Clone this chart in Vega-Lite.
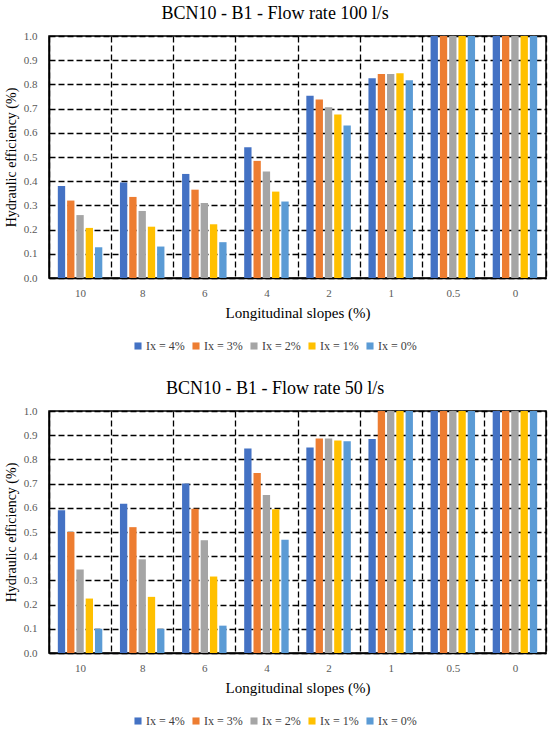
{
  "$schema": "https://vega.github.io/schema/vega-lite/v6.json",
  "padding": {"left": 3, "top": 4, "right": 7, "bottom": 4},
  "config": {
    "font": "Liberation Serif",
    "view": {"stroke": "black", "strokeWidth": 1.5},
    "axis": {
      "labelFont": "Liberation Serif",
      "labelFontSize": 11,
      "labelColor": "#595959",
      "titleFont": "Liberation Serif",
      "titleFontSize": 14,
      "titleFontWeight": "normal",
      "titleColor": "#000000",
      "domainColor": "#000000",
      "domainWidth": 1.5,
      "ticks": false,
      "grid": true,
      "gridColor": "#000000",
      "gridDash": [6, 3],
      "gridWidth": 1.3,
      "gridOpacity": 1
    },
    "title": {"font": "Liberation Serif", "fontSize": 18, "fontWeight": "normal", "color": "#000000", "frame": "bounds", "anchor": "middle", "offset": 7},
    "legend": {"labelFont": "Liberation Serif", "labelFontSize": 12, "labelColor": "#404040", "symbolType": "square", "symbolSize": 50, "symbolStrokeWidth": 0, "columnPadding": 5, "labelOffset": 2},
    "concat": {"spacing": 26}
  },
  "datasets": {
    "q100": [
      {"slope": "10", "ix": "Ix = 4%", "value": 0.38},
      {"slope": "10", "ix": "Ix = 3%", "value": 0.32},
      {"slope": "10", "ix": "Ix = 2%", "value": 0.26},
      {"slope": "10", "ix": "Ix = 1%", "value": 0.207},
      {"slope": "10", "ix": "Ix = 0%", "value": 0.127},
      {"slope": "8", "ix": "Ix = 4%", "value": 0.395},
      {"slope": "8", "ix": "Ix = 3%", "value": 0.335},
      {"slope": "8", "ix": "Ix = 2%", "value": 0.277},
      {"slope": "8", "ix": "Ix = 1%", "value": 0.212},
      {"slope": "8", "ix": "Ix = 0%", "value": 0.13},
      {"slope": "6", "ix": "Ix = 4%", "value": 0.43},
      {"slope": "6", "ix": "Ix = 3%", "value": 0.365},
      {"slope": "6", "ix": "Ix = 2%", "value": 0.31},
      {"slope": "6", "ix": "Ix = 1%", "value": 0.222},
      {"slope": "6", "ix": "Ix = 0%", "value": 0.148},
      {"slope": "4", "ix": "Ix = 4%", "value": 0.54},
      {"slope": "4", "ix": "Ix = 3%", "value": 0.484},
      {"slope": "4", "ix": "Ix = 2%", "value": 0.44},
      {"slope": "4", "ix": "Ix = 1%", "value": 0.357},
      {"slope": "4", "ix": "Ix = 0%", "value": 0.316},
      {"slope": "2", "ix": "Ix = 4%", "value": 0.753},
      {"slope": "2", "ix": "Ix = 3%", "value": 0.738},
      {"slope": "2", "ix": "Ix = 2%", "value": 0.706},
      {"slope": "2", "ix": "Ix = 1%", "value": 0.676},
      {"slope": "2", "ix": "Ix = 0%", "value": 0.63},
      {"slope": "1", "ix": "Ix = 4%", "value": 0.825},
      {"slope": "1", "ix": "Ix = 3%", "value": 0.843},
      {"slope": "1", "ix": "Ix = 2%", "value": 0.843},
      {"slope": "1", "ix": "Ix = 1%", "value": 0.846},
      {"slope": "1", "ix": "Ix = 0%", "value": 0.817},
      {"slope": "0.5", "ix": "Ix = 4%", "value": 1.0},
      {"slope": "0.5", "ix": "Ix = 3%", "value": 1.0},
      {"slope": "0.5", "ix": "Ix = 2%", "value": 1.0},
      {"slope": "0.5", "ix": "Ix = 1%", "value": 1.0},
      {"slope": "0.5", "ix": "Ix = 0%", "value": 1.0},
      {"slope": "0", "ix": "Ix = 4%", "value": 1.0},
      {"slope": "0", "ix": "Ix = 3%", "value": 1.0},
      {"slope": "0", "ix": "Ix = 2%", "value": 1.0},
      {"slope": "0", "ix": "Ix = 1%", "value": 1.0},
      {"slope": "0", "ix": "Ix = 0%", "value": 1.0}
    ],
    "q50": [
      {"slope": "10", "ix": "Ix = 4%", "value": 0.59},
      {"slope": "10", "ix": "Ix = 3%", "value": 0.5},
      {"slope": "10", "ix": "Ix = 2%", "value": 0.345},
      {"slope": "10", "ix": "Ix = 1%", "value": 0.225},
      {"slope": "10", "ix": "Ix = 0%", "value": 0.1},
      {"slope": "8", "ix": "Ix = 4%", "value": 0.617},
      {"slope": "8", "ix": "Ix = 3%", "value": 0.52},
      {"slope": "8", "ix": "Ix = 2%", "value": 0.387},
      {"slope": "8", "ix": "Ix = 1%", "value": 0.232},
      {"slope": "8", "ix": "Ix = 0%", "value": 0.1},
      {"slope": "6", "ix": "Ix = 4%", "value": 0.7},
      {"slope": "6", "ix": "Ix = 3%", "value": 0.596},
      {"slope": "6", "ix": "Ix = 2%", "value": 0.466},
      {"slope": "6", "ix": "Ix = 1%", "value": 0.316},
      {"slope": "6", "ix": "Ix = 0%", "value": 0.113},
      {"slope": "4", "ix": "Ix = 4%", "value": 0.845},
      {"slope": "4", "ix": "Ix = 3%", "value": 0.744},
      {"slope": "4", "ix": "Ix = 2%", "value": 0.653},
      {"slope": "4", "ix": "Ix = 1%", "value": 0.594},
      {"slope": "4", "ix": "Ix = 0%", "value": 0.468},
      {"slope": "2", "ix": "Ix = 4%", "value": 0.849},
      {"slope": "2", "ix": "Ix = 3%", "value": 0.886},
      {"slope": "2", "ix": "Ix = 2%", "value": 0.886},
      {"slope": "2", "ix": "Ix = 1%", "value": 0.878},
      {"slope": "2", "ix": "Ix = 0%", "value": 0.875},
      {"slope": "1", "ix": "Ix = 4%", "value": 0.884},
      {"slope": "1", "ix": "Ix = 3%", "value": 1.0},
      {"slope": "1", "ix": "Ix = 2%", "value": 1.0},
      {"slope": "1", "ix": "Ix = 1%", "value": 1.0},
      {"slope": "1", "ix": "Ix = 0%", "value": 1.0},
      {"slope": "0.5", "ix": "Ix = 4%", "value": 1.0},
      {"slope": "0.5", "ix": "Ix = 3%", "value": 1.0},
      {"slope": "0.5", "ix": "Ix = 2%", "value": 1.0},
      {"slope": "0.5", "ix": "Ix = 1%", "value": 1.0},
      {"slope": "0.5", "ix": "Ix = 0%", "value": 1.0},
      {"slope": "0", "ix": "Ix = 4%", "value": 1.0},
      {"slope": "0", "ix": "Ix = 3%", "value": 1.0},
      {"slope": "0", "ix": "Ix = 2%", "value": 1.0},
      {"slope": "0", "ix": "Ix = 1%", "value": 1.0},
      {"slope": "0", "ix": "Ix = 0%", "value": 1.0}
    ]
  },
  "resolve": {"scale": {"color": "independent"}, "legend": {"color": "independent"}},
  "vconcat": [
    {
      "title": {"text": "BCN10 - B1 - Flow rate 100 l/s", "font": "Liberation Serif"},
      "width": 497,
      "height": 242,
      "data": {"name": "q100"},
      "mark": {"type": "bar"},
      "encoding": {
        "x": {
          "field": "slope", "type": "nominal",
          "sort": ["10", "8", "6", "4", "2", "1", "0.5", "0"],
          "scale": {"paddingInner": 0, "paddingOuter": 0},
          "axis": {"title": "Longitudinal slopes (%)", "titleFont": "Liberation Serif", "labelFont": "Liberation Serif", "titleFontSize": 15, "labelAngle": 0, "tickBand": "extent", "labelPadding": 9, "titlePadding": 7}
        },
        "xOffset": {
          "field": "ix", "type": "nominal",
          "sort": ["Ix = 4%", "Ix = 3%", "Ix = 2%", "Ix = 1%", "Ix = 0%"],
          "scale": {"paddingInner": 0.21, "paddingOuter": 0.95}
        },
        "y": {
          "field": "value", "type": "quantitative",
          "scale": {"domain": [0, 1], "nice": false},
          "axis": {"title": "Hydraulic efficiency  (%)", "titleFont": "Liberation Serif", "labelFont": "Liberation Serif", "values": [0, 0.1, 0.2, 0.3, 0.4, 0.5, 0.6, 0.7, 0.8, 0.9, 1.0], "format": ".1f", "labelPadding": 12, "titlePadding": 5}
        },
        "color": {
          "field": "ix", "type": "nominal",
          "sort": ["Ix = 4%", "Ix = 3%", "Ix = 2%", "Ix = 1%", "Ix = 0%"],
          "scale": {"domain": ["Ix = 4%", "Ix = 3%", "Ix = 2%", "Ix = 1%", "Ix = 0%"], "range": ["#4472C4", "#ED7D31", "#A5A5A5", "#FFC000", "#5B9BD5"]},
          "legend": {"orient": "none", "legendX": 83, "legendY": 304, "direction": "horizontal", "title": null, "columns": 5, "labelFont": "Liberation Serif"}
        }
      }
    },
    {
      "title": {"text": "BCN10 - B1 - Flow rate 50 l/s", "font": "Liberation Serif"},
      "width": 497,
      "height": 242,
      "data": {"name": "q50"},
      "mark": {"type": "bar"},
      "encoding": {
        "x": {
          "field": "slope", "type": "nominal",
          "sort": ["10", "8", "6", "4", "2", "1", "0.5", "0"],
          "scale": {"paddingInner": 0, "paddingOuter": 0},
          "axis": {"title": "Longitudinal slopes (%)", "titleFont": "Liberation Serif", "labelFont": "Liberation Serif", "titleFontSize": 15, "labelAngle": 0, "tickBand": "extent", "labelPadding": 9, "titlePadding": 7}
        },
        "xOffset": {
          "field": "ix", "type": "nominal",
          "sort": ["Ix = 4%", "Ix = 3%", "Ix = 2%", "Ix = 1%", "Ix = 0%"],
          "scale": {"paddingInner": 0.21, "paddingOuter": 0.95}
        },
        "y": {
          "field": "value", "type": "quantitative",
          "scale": {"domain": [0, 1], "nice": false},
          "axis": {"title": "Hydraulic efficiency  (%)", "titleFont": "Liberation Serif", "labelFont": "Liberation Serif", "values": [0, 0.1, 0.2, 0.3, 0.4, 0.5, 0.6, 0.7, 0.8, 0.9, 1.0], "format": ".1f", "labelPadding": 12, "titlePadding": 5}
        },
        "color": {
          "field": "ix", "type": "nominal",
          "sort": ["Ix = 4%", "Ix = 3%", "Ix = 2%", "Ix = 1%", "Ix = 0%"],
          "scale": {"domain": ["Ix = 4%", "Ix = 3%", "Ix = 2%", "Ix = 1%", "Ix = 0%"], "range": ["#4472C4", "#ED7D31", "#A5A5A5", "#FFC000", "#5B9BD5"]},
          "legend": {"orient": "none", "legendX": 83, "legendY": 304, "direction": "horizontal", "title": null, "columns": 5, "labelFont": "Liberation Serif"}
        }
      }
    }
  ]
}
